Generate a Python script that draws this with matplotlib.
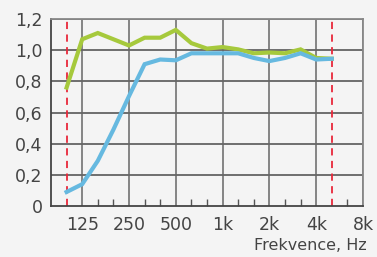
import numpy as np
import matplotlib.pyplot as plt

# third-octave bands 80 Hz .. 8 kHz, plotted evenly by band index
bands = [80, 100, 125, 160, 200, 250, 315, 400, 500, 630, 800, 1000,
         1250, 1600, 2000, 2500, 3150, 4000, 5000, 6300, 8000]
meas_bands = bands[1:19]
green = [0.76, 1.07, 1.11, 1.07, 1.03, 1.08, 1.08, 1.13, 1.045,
         1.01, 1.02, 1.005, 0.98, 0.985, 0.98, 1.005, 0.95, 0.945]
blue = [0.09, 0.14, 0.29, 0.49, 0.705, 0.91, 0.94, 0.935, 0.98,
        0.98, 0.98, 0.98, 0.95, 0.93, 0.95, 0.98, 0.94, 0.945]
tick_labels = {125: '125', 250: '250', 500: '500', 1000: '1k',
               2000: '2k', 4000: '4k', 8000: '8k'}
limits = [100, 5000]

idx = {f: i for i, f in enumerate(bands)}
xm = [idx[f] for f in meas_bands]

fig = plt.figure(figsize=(3.77, 2.57), dpi=100, facecolor='#f4f4f4')
ax = fig.add_axes([51/377, 1-206/257, 312/377, 187/257])
ax.set_facecolor('#f4f4f4')
ax.set_xlim(0, len(bands) - 1)
ax.set_ylim(0, 1.2)

for y in np.arange(0.2, 1.21, 0.2):
    ax.axhline(y, color='#4a4a4a', lw=1.1, zorder=1)
for f in tick_labels:
    ax.axvline(idx[f], color='#666666', lw=1.1, zorder=1)
for f in limits:
    ax.axvline(idx[f], color='#e8283a', lw=1.3, ls=(0, (4, 3)), zorder=2)

ax.plot(xm, green, color='#a6c93c', lw=3.0, solid_joinstyle='miter', zorder=3)
ax.plot(xm, blue, color='#66b9e0', lw=3.0, solid_joinstyle='miter', zorder=3)

ax.set_xticks([idx[f] for f in tick_labels])
ax.set_xticklabels(list(tick_labels.values()))
minor = [idx[f] for f in bands[1:] if f not in tick_labels and f not in limits]
ax.set_xticks(minor, minor=True)
ax.tick_params(axis='x', which='major', length=0, pad=7)
ax.tick_params(axis='x', which='minor', direction='in', length=5,
               width=1, color='#555555')
ax.set_yticks(np.arange(0, 1.21, 0.2))
ax.set_yticklabels(['0', '0,2', '0,4', '0,6', '0,8', '1,0', '1,2'])
ax.tick_params(axis='y', length=0, pad=6)
ax.tick_params(labelsize=12.5, labelcolor='#444444')

for s in ['left', 'bottom']:
    ax.spines[s].set_color('#444444')
    ax.spines[s].set_linewidth(1.3)
for s in ['top', 'right']:
    ax.spines[s].set_color('#888888')
    ax.spines[s].set_linewidth(1.3)

fig.text(367/377, 1-245/257, 'Frekvence, Hz', ha='right', va='center',
         fontsize=11.5, color='#444444')

fig.savefig('out.png', dpi=100, facecolor=fig.get_facecolor())
